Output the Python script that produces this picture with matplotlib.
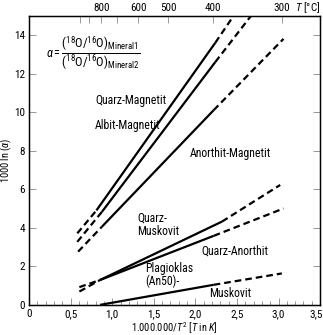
import numpy as np
import matplotlib
matplotlib.use('Agg')
import matplotlib.pyplot as plt
import matplotlib.transforms as mtransforms
from matplotlib.ticker import MultipleLocator

fams = ['Roboto Condensed', 'Liberation Sans Narrow', 'Roboto', 'DejaVu Sans']
plt.rcParams['font.family'] = fams
plt.rcParams['mathtext.fontset'] = 'custom'
plt.rcParams['mathtext.rm'] = 'Roboto Condensed'
plt.rcParams['mathtext.it'] = 'Roboto Condensed:italic'

# each line: dashed start, solid start, solid end, dashed end  (x, y)
qz_mag_x = [0.58, 0.81, 2.24, 2.46]
qz_mag_y = [3.71, 4.9, 13.6, 15.0]
ab_mag_x = [0.58, 0.875, 2.24, 2.67]
ab_mag_y = [3.27, 4.82, 12.6, 15.0]
an_mag_x = [0.59, 0.875, 2.22, 3.06]
an_mag_y = [2.76, 4.05, 10.1, 13.8]
qz_mus_x = [0.605, 0.854, 2.32, 3.02]
qz_mus_y = [0.92, 1.29, 4.32, 6.22]
qz_an_x = [0.605, 0.854, 2.22, 3.06]
qz_an_y = [0.69, 1.29, 3.58, 5.0]
pl_mus_x = [0.855, 0.855, 2.22, 3.04]
pl_mus_y = [0.0, 0.0, 1.04, 1.63]

x_ticks = [0, 0.5, 1.0, 1.5, 2.0, 2.5, 3.0, 3.5]
x_labels = ['0', '0,5', '1,0', '1,5', '2,0', '2,5', '3,0', '3,5']
temps_major = [800, 600, 500, 400, 300]
temps_minor = [1000, 900, 700]

fig = plt.figure(figsize=(3.23, 3.35), dpi=100)
ax = fig.add_axes([0.09, 0.09, 0.901, 0.863])

for xs, ys in [(qz_mag_x, qz_mag_y), (ab_mag_x, ab_mag_y), (an_mag_x, an_mag_y),
               (qz_mus_x, qz_mus_y), (qz_an_x, qz_an_y), (pl_mus_x, pl_mus_y)]:
    ax.plot(xs[:2], ys[:2], color='black', lw=1.6, ls=(0, (3, 1.8)))
    ax.plot(xs[1:3], ys[1:3], color='black', lw=1.6, solid_capstyle='butt')
    ax.plot(xs[2:], ys[2:], color='black', lw=1.6, ls=(0, (3, 1.8)))

ax.set_xlim(0, 3.5)
ax.set_ylim(0, 15)
ax.set_xticks(x_ticks)
ax.set_xticklabels(x_labels)
ax.xaxis.set_minor_locator(MultipleLocator(0.1))
ax.yaxis.set_major_locator(MultipleLocator(2))
ax.tick_params(which='both', direction='in', labelsize=8, top=False, right=True, pad=3)
ax.tick_params(which='major', length=5, width=0.6, color='#888888')
ax.tick_params(which='minor', length=3, width=0.6, color='#888888')
for s in ax.spines.values():
    s.set_linewidth(1.0)

# keep the last label inside the figure
last = ax.get_xticklabels()[-1]
last.set_ha('right')
last.set_transform(last.get_transform() + mtransforms.ScaledTranslation(2 / 72, 0, fig.dpi_scale_trans))

ax.set_xlabel(r'1.000.000/$T^2$ [$T$ in $K$]', fontsize=7.5, labelpad=1)
ax.set_ylabel(r'1000 ln ($\alpha$)', fontsize=7.5)
ax.yaxis.set_label_coords(-0.052, 0.5)

# top temperature axis
top = ax.twiny()
top.set_xlim(ax.get_xlim())
top.set_xticks([1e6 / (t + 273.15) ** 2 for t in temps_major])
top.set_xticklabels([str(t) for t in temps_major])
top.set_xticks([1e6 / (t + 273.15) ** 2 for t in temps_minor], minor=True)
top.tick_params(which='both', direction='in', length=5, width=0.6, color='#888888', labelsize=8, pad=2)
ax.text(3.2, 15.42, r'$T$ [°C]', fontsize=8, ha='left', va='center')

ax.text(0.2, 13.05, r'$\alpha = \dfrac{(^{18}\mathrm{O}/^{16}\mathrm{O})_{\mathrm{Mineral1}}}{(^{18}\mathrm{O}/^{16}\mathrm{O})_{\mathrm{Mineral2}}}$',
        fontsize=9, ha='left', va='center')

fs = 8.5
ax.text(1.22, 10.6, 'Quarz-Magnetit', fontsize=fs, ha='center', va='center')
ax.text(1.18, 9.3, 'Albit-Magnetit', fontsize=fs, ha='center', va='center')
ax.text(2.42, 7.84, 'Anorthit-Magnetit', fontsize=fs, ha='center', va='center')
ax.text(1.3, 4.14, 'Quarz-\nMuskovit', fontsize=fs, ha='left', va='center', linespacing=1.0)
ax.text(2.48, 2.79, 'Quarz-Anorthit', fontsize=fs, ha='center', va='center')
ax.text(1.4, 1.55, 'Plagioklas\n(An50)-', fontsize=fs, ha='left', va='center', linespacing=1.0)
ax.text(2.42, 0.57, 'Muskovit', fontsize=fs, ha='center', va='center')

fig.savefig('out.png', dpi=100)
